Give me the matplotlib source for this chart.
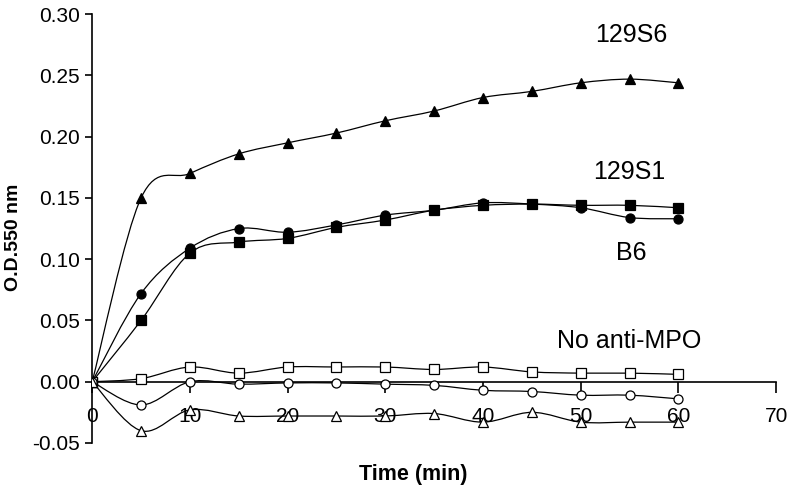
import numpy as np
import matplotlib
matplotlib.use('Agg')
import matplotlib.pyplot as plt
from matplotlib.path import Path
from matplotlib.patches import PathPatch

plt.rcParams['font.family'] = ['Liberation Sans', 'DejaVu Sans']

# time points (min)
time = [0, 5, 10, 15, 20, 25, 30, 35, 40, 45, 50, 55, 60]

# O.D. 550 nm readings
s129s6 = [0, 0.150, 0.170, 0.186, 0.195, 0.203, 0.213, 0.221, 0.232, 0.237, 0.244, 0.247, 0.244]
s129s1 = [0, 0.050, 0.105, 0.114, 0.117, 0.126, 0.132, 0.140, 0.144, 0.145, 0.144, 0.144, 0.142]
b6 = [0, 0.072, 0.109, 0.125, 0.122, 0.128, 0.136, 0.140, 0.146, 0.145, 0.142, 0.134, 0.133]
ctrl_sq = [0, 0.0025, 0.012, 0.007, 0.012, 0.012, 0.012, 0.010, 0.012, 0.008, 0.007, 0.007, 0.006]
ctrl_circ = [0, -0.019, 0.0, -0.002, -0.001, -0.001, -0.002, -0.003, -0.007, -0.008, -0.011, -0.011, -0.014]
ctrl_tri = [0, -0.040, -0.023, -0.028, -0.028, -0.028, -0.028, -0.026, -0.033, -0.025, -0.033, -0.033, -0.033]

# text labels next to the curves: (text, x, y)
labels = [('129S6', 55.2, 0.285), ('129S1', 55.0, 0.173), ('B6', 55.2, 0.107), ('No anti-MPO', 55.0, 0.035)]


def smooth_line(ax, x, y, lw=0.9):
    # Excel-style smoothed line (Catmull-Rom converted to cubic Bezier)
    pts = np.column_stack([x, y]).astype(float)
    verts = [pts[0]]
    codes = [Path.MOVETO]
    n = len(pts)
    for i in range(n - 1):
        p0 = pts[i - 1] if i > 0 else pts[i]
        p1 = pts[i]
        p2 = pts[i + 1]
        p3 = pts[i + 2] if i + 2 < n else pts[i + 1]
        c1 = p1 + (p2 - p0) / 6.0
        c2 = p2 - (p3 - p1) / 6.0
        verts += [c1, c2, p2]
        codes += [Path.CURVE4] * 3
    ax.add_patch(PathPatch(Path(verts, codes), fill=False, lw=lw, edgecolor='black'))


fig = plt.figure(figsize=(7.88, 4.9), dpi=100)
ax = fig.add_axes([0.117, 0.096, 0.868, 0.875])

series = [
    (s129s6, '^', 'black'),
    (s129s1, 's', 'black'),
    (b6, 'o', 'black'),
    (ctrl_sq, 's', 'white'),
    (ctrl_circ, 'o', 'white'),
    (ctrl_tri, '^', 'white'),
]
for vals, m, fc in series:
    smooth_line(ax, time, vals)
    ax.plot(time, vals, linestyle='none', marker=m, markersize=7 if m != 'o' else 6.5,
            markerfacecolor=fc, markeredgecolor='black', markeredgewidth=0.9, zorder=3)

for txt, x, y in labels:
    ax.text(x, y, txt, fontsize=18, ha='center', va='center_baseline')

ax.set_xlim(0, 70)
ax.set_ylim(-0.05, 0.30)
ax.set_xticks(range(0, 71, 10))
ax.set_yticks(np.arange(-0.05, 0.301, 0.05))
ax.set_yticklabels(['%.2f' % v for v in np.arange(-0.05, 0.301, 0.05)])

ax.spines['top'].set_visible(False)
ax.spines['right'].set_visible(False)
ax.spines['bottom'].set_position(('data', 0))
ax.spines['left'].set_linewidth(1.2)
ax.spines['bottom'].set_linewidth(1.2)
ax.tick_params(axis='x', direction='out', length=8, width=1.2, pad=10, labelsize=15)
ax.tick_params(axis='y', direction='out', length=5, width=1.2, pad=4, labelsize=15)

ax.set_xlabel('Time (min)', fontsize=15.5, fontweight='bold')
ax.set_ylabel('O.D.550 nm', fontsize=14, fontweight='bold')
ax.xaxis.set_label_coords(0.47, -0.05)
ax.yaxis.set_label_coords(-0.103, 0.48)

plt.savefig('out.png', dpi=100)
